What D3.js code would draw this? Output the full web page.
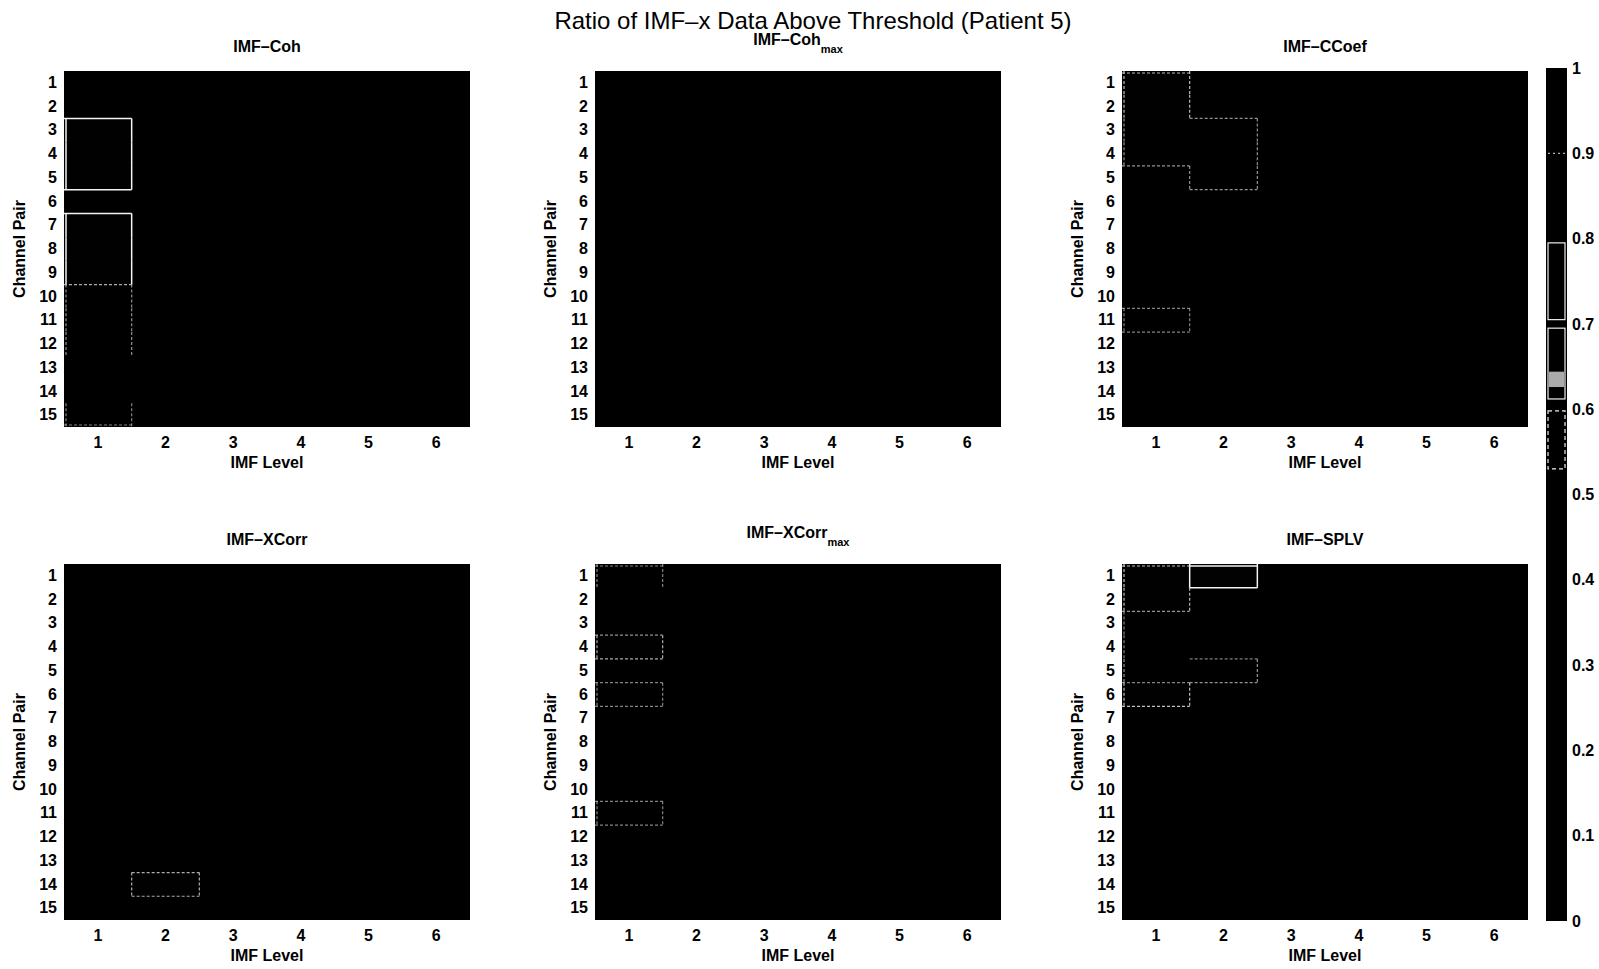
<html>
<script src="https://d3js.org/d3.v7.min.js"></script>
<style>
body {margin:0; background:#fff;}
text {font-family: "Liberation Sans", Arial, sans-serif; fill:#000;}
.tick text {font-weight: bold; font-size: 16px;}
.lbl {font-weight: bold; font-size: 16px;}
</style>
<body>
<svg width=1599 height=969></svg>
<script>
// categories / ticks
const imfLevels = [1, 2, 3, 4, 5, 6];
const channelPairs = [1, 2, 3, 4, 5, 6, 7, 8, 9, 10, 11, 12, 13, 14, 15];
const colorbarTicks = [0, 0.1, 0.2, 0.3, 0.4, 0.5, 0.6, 0.7, 0.8, 0.9, 1];

// ratio above threshold, rows = channel pair 1..15, cols = IMF level 1..6
const cohVals = [
  [0, 0, 0, 0, 0, 0], [0, 0, 0, 0, 0, 0], [0.12, 0, 0, 0, 0, 0], [0.12, 0, 0, 0, 0, 0],
  [0.12, 0, 0, 0, 0, 0], [0, 0, 0, 0, 0, 0], [0.12, 0, 0, 0, 0, 0], [0.12, 0, 0, 0, 0, 0],
  [0.12, 0, 0, 0, 0, 0], [0.05, 0, 0, 0, 0, 0], [0.05, 0, 0, 0, 0, 0], [0.05, 0, 0, 0, 0, 0],
  [0.02, 0, 0, 0, 0, 0], [0.02, 0, 0, 0, 0, 0], [0.04, 0, 0, 0, 0, 0]];
const cohMaxVals = [
  [0, 0, 0, 0, 0, 0], [0, 0, 0, 0, 0, 0], [0, 0, 0, 0, 0, 0], [0, 0, 0, 0, 0, 0],
  [0, 0, 0, 0, 0, 0], [0, 0, 0, 0, 0, 0], [0, 0, 0, 0, 0, 0], [0, 0, 0, 0, 0, 0],
  [0, 0, 0, 0, 0, 0], [0, 0, 0, 0, 0, 0], [0, 0, 0, 0, 0, 0], [0, 0, 0, 0, 0, 0],
  [0, 0, 0, 0, 0, 0], [0, 0, 0, 0, 0, 0], [0, 0, 0, 0, 0, 0]];
const ccoefVals = [
  [0.08, 0, 0, 0, 0, 0], [0.08, 0, 0, 0, 0, 0], [0.05, 0.05, 0, 0, 0, 0], [0.05, 0.05, 0, 0, 0, 0],
  [0, 0.05, 0, 0, 0, 0], [0, 0, 0, 0, 0, 0], [0, 0, 0, 0, 0, 0], [0, 0, 0, 0, 0, 0],
  [0, 0, 0, 0, 0, 0], [0, 0, 0, 0, 0, 0], [0.04, 0, 0, 0, 0, 0], [0, 0, 0, 0, 0, 0],
  [0, 0, 0, 0, 0, 0], [0, 0, 0, 0, 0, 0], [0, 0, 0, 0, 0, 0]];
const xcorrVals = [
  [0, 0, 0, 0, 0, 0], [0, 0, 0, 0, 0, 0], [0, 0, 0, 0, 0, 0], [0, 0, 0, 0, 0, 0],
  [0, 0, 0, 0, 0, 0], [0, 0, 0, 0, 0, 0], [0, 0, 0, 0, 0, 0], [0, 0, 0, 0, 0, 0],
  [0, 0, 0, 0, 0, 0], [0, 0, 0, 0, 0, 0], [0, 0, 0, 0, 0, 0], [0, 0, 0, 0, 0, 0],
  [0, 0, 0, 0, 0, 0], [0, 0.07, 0, 0, 0, 0], [0, 0, 0, 0, 0, 0]];
const xcorrMaxVals = [
  [0.04, 0, 0, 0, 0, 0], [0.02, 0, 0, 0, 0, 0], [0.02, 0, 0, 0, 0, 0], [0.07, 0, 0, 0, 0, 0],
  [0, 0, 0, 0, 0, 0], [0.04, 0, 0, 0, 0, 0], [0, 0, 0, 0, 0, 0], [0, 0, 0, 0, 0, 0],
  [0, 0, 0, 0, 0, 0], [0, 0, 0, 0, 0, 0], [0.04, 0, 0, 0, 0, 0], [0, 0, 0, 0, 0, 0],
  [0, 0, 0, 0, 0, 0], [0, 0, 0, 0, 0, 0], [0, 0, 0, 0, 0, 0]];
const splvVals = [
  [0.09, 0.2, 0, 0, 0, 0], [0.09, 0.015, 0, 0, 0, 0], [0.04, 0.015, 0, 0, 0, 0], [0.04, 0.015, 0, 0, 0, 0],
  [0.05, 0.05, 0, 0, 0, 0], [0.09, 0, 0, 0, 0, 0], [0, 0, 0, 0, 0, 0], [0, 0, 0, 0, 0, 0],
  [0, 0, 0, 0, 0, 0], [0, 0, 0, 0, 0, 0], [0, 0, 0, 0, 0, 0], [0, 0, 0, 0, 0, 0],
  [0, 0, 0, 0, 0, 0], [0, 0, 0, 0, 0, 0], [0, 0, 0, 0, 0, 0]];

// scanned colour bar: band outlines and a light patch
const colorbarBands = [[0.705, 0.795], [0.612, 0.695], [0.53, 0.598]];
const colorbarLines = [0.9];
const colorbarPatch = [0.626, 0.644];

const panels = [
  {name: "IMF\u2013Coh", sub: "", vals: cohVals},
  {name: "IMF\u2013Coh", sub: "max", vals: cohMaxVals},
  {name: "IMF\u2013CCoef", sub: "", vals: ccoefVals},
  {name: "IMF\u2013XCorr", sub: "", vals: xcorrVals},
  {name: "IMF\u2013XCorr", sub: "max", vals: xcorrMaxVals},
  {name: "IMF\u2013SPLV", sub: "", vals: splvVals}
];

const svg = d3.select('svg');
const colLeft = [64, 595, 1122];
const rowTop = [71, 564];
const pw = 406, ph = 356;
const color = d3.scaleLinear().domain([0, 1]).range(["#000", "#080808"]);

svg.append('text')
  .attr('x', 813).attr('y', 29)
  .attr('text-anchor', 'middle')
  .style('font-size', '24px')
  .text('Ratio of IMF\u2013x Data Above Threshold (Patient 5)');

panels.forEach(function(p, i) {
  const x0 = colLeft[i % 3], y0 = rowTop[Math.floor(i / 3)];
  const xs = d3.scaleBand().domain(imfLevels).range([0, pw]);
  const ys = d3.scaleBand().domain(channelPairs).range([0, ph]);
  const g = svg.append('g').attr('transform', 'translate(' + x0 + ',' + y0 + ')');

  g.append('rect').attr('width', pw).attr('height', ph).attr('fill', '#000');

  const cells = [];
  p.vals.forEach(function(row, r) {
    row.forEach(function(v, c) { cells.push({r: r, c: c, v: v}); });
  });
  g.selectAll('rect.cell').data(cells).enter().append('rect')
    .attr('class', 'cell')
    .attr('x', d => xs(imfLevels[d.c]))
    .attr('y', d => ys(channelPairs[d.r]))
    .attr('width', xs.bandwidth())
    .attr('height', ys.bandwidth())
    .attr('shape-rendering', 'crispEdges')
    .attr('fill', d => color(d.v));

  // contour-like outlines where neighbouring cells differ
  const get = (r, c) => (r < 0 || r > 14 || c < 0 || c > 5) ? 0 : p.vals[r][c];
  const edges = [];
  for (let r = 0; r < 15; r++) {
    for (let c = 0; c <= 6; c++) {
      const diff = Math.abs(get(r, c - 1) - get(r, c));
      if (diff >= 0.035) {
        const x = c === 0 ? 2 : c === 6 ? pw - 2 : xs(imfLevels[c]);
        const y = ys(channelPairs[r]);
        edges.push({x1: x, x2: x, y1: y, y2: y + ys.bandwidth(), diff: diff});
      }
    }
  }
  for (let r = 0; r <= 15; r++) {
    for (let c = 0; c < 6; c++) {
      const diff = Math.abs(get(r - 1, c) - get(r, c));
      if (diff >= 0.035) {
        const y = r === 0 ? 2 : r === 15 ? ph - 2 : ys(channelPairs[r]);
        const x = xs(imfLevels[c]);
        edges.push({x1: x, x2: x + xs.bandwidth(), y1: y, y2: y, diff: diff});
      }
    }
  }
  g.selectAll('line.edge').data(edges).enter().append('line')
    .attr('x1', d => d.x1).attr('x2', d => d.x2)
    .attr('y1', d => d.y1).attr('y2', d => d.y2)
    .attr('stroke', d => d.diff >= 0.1 ? '#f4f4f4' : '#e0e0e0')
    .attr('stroke-width', d => d.diff >= 0.1 ? 1.5 : 1.2)
    .attr('stroke-dasharray', d => d.diff >= 0.1 ? null : '3,2')
    .attr('stroke-opacity', d => d.diff >= 0.1 ? 1 : Math.min(0.85, 0.35 + d.diff * 6));

  // axes
  const ya = g.append('g').call(d3.axisLeft(ys).tickSize(0).tickPadding(7));
  ya.select('.domain').remove();
  const xa = g.append('g').attr('transform', 'translate(0,' + ph + ')')
    .call(d3.axisBottom(xs).tickSize(0).tickPadding(10));
  xa.select('.domain').remove();

  g.append('text').attr('class', 'lbl')
    .attr('x', pw / 2).attr('y', ph + 41)
    .attr('text-anchor', 'middle')
    .text('IMF Level');
  g.append('text').attr('class', 'lbl')
    .attr('transform', 'translate(-39,' + (ph / 2) + ') rotate(-90)')
    .attr('text-anchor', 'middle')
    .text('Channel Pair');

  const t = g.append('text').attr('class', 'lbl')
    .attr('x', pw / 2).attr('y', p.sub ? -26 : -19)
    .attr('text-anchor', 'middle');
  t.append('tspan').text(p.name);
  if (p.sub) {
    t.append('tspan').attr('dy', 8).style('font-size', '11px').text(p.sub);
  }
});

// colour bar
const cx = 1546, cw = 21;
const cy = d3.scaleLinear().domain([0, 1]).range([921, 68]);
const cb = svg.append('g').attr('transform', 'translate(' + cx + ',0)');
cb.append('rect').attr('x', 0).attr('y', cy(1)).attr('width', cw).attr('height', cy(0) - cy(1)).attr('fill', '#000');
cb.append('rect')
  .attr('x', 3).attr('y', cy(colorbarPatch[1]))
  .attr('width', cw - 6).attr('height', cy(colorbarPatch[0]) - cy(colorbarPatch[1]))
  .attr('fill', '#c8c8c8').attr('opacity', 0.85);
cb.selectAll('rect.band').data(colorbarBands).enter().append('rect')
  .attr('class', 'band')
  .attr('x', 2).attr('width', cw - 4)
  .attr('y', d => cy(d[1])).attr('height', d => cy(d[0]) - cy(d[1]))
  .attr('fill', 'none').attr('stroke', '#eee').attr('stroke-width', 1.2)
  .attr('stroke-dasharray', (d, i) => i === 2 ? '4,3' : null);
cb.selectAll('line.cbl').data(colorbarLines).enter().append('line')
  .attr('x1', 2).attr('x2', cw - 2)
  .attr('y1', d => cy(d)).attr('y2', d => cy(d))
  .attr('stroke', '#ddd').attr('stroke-dasharray', '2,3');
const ca = cb.append('g').attr('transform', 'translate(' + cw + ',0)')
  .call(d3.axisRight(cy).tickValues(colorbarTicks).tickFormat(d3.format('~g')).tickSize(0).tickPadding(5));
ca.select('.domain').remove();
</script>
</body>
</html>
